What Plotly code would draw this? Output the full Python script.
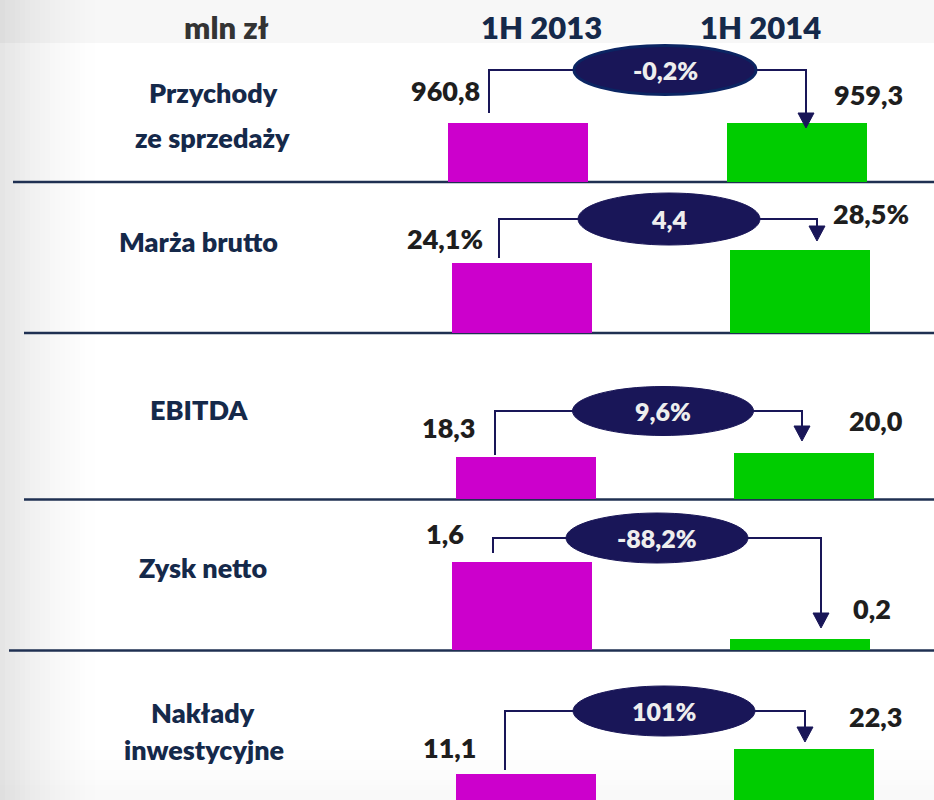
import plotly.graph_objects as go

# ---------------- data ----------------
periods = ["1H 2013", "1H 2014"]
metric_lines = [["Przychody", "ze sprzedaży"], ["Marża brutto"], ["EBITDA"], ["Zysk netto"], ["Nakłady", "inwestycyjne"]]
values_2013 = [960.8, 24.1, 18.3, 1.6, 11.1]
values_2014 = [959.3, 28.5, 20.0, 0.2, 22.3]
labels_2013 = ["960,8", "24,1%", "18,3", "1,6", "11,1"]
labels_2014 = ["959,3", "28,5%", "20,0", "0,2", "22,3"]
changes = ["-0,2%", "4,4", "9,6%", "-88,2%", "101%"]
unit_label = "mln zł"

# ---------------- layout config (pixels) ----------------
W, H = 934, 800
row_top = [0, 182, 333, 499, 650]
row_base = [182, 333, 499, 650, 800]
px_per_unit = [59 / 960.8, 2.9, 2.3, 55, 2.3]
c13 = [518, 521.5, 526, 521.5, 526]
c14 = [797, 799.5, 803.5, 799.5, 803.5]
bar_w_px = 140
lab13_shift = [(-73, 33), (-77, 25), (-78, 29), (-77, 29), (-77, 27)]
lab14_shift = [(71, 29), (71, 37), (72, 33), (72, 31), (72, 32)]
ell = [(665, 70, 182, 49), (669, 219, 182, 52), (663, 411, 181, 49), (657, 538, 182, 50), (664, 711, 182, 50)]
conn = [(489, 113, 806, 128), (499, 258, 817, 241), (495, 455, 802, 441), (493, 553, 821, 628), (505, 770, 805, 742)]
label_pos = [[(213, 92), (212, 137)], [(198, 241)], [(199, 409)], [(203, 567)], [(203, 712), (204, 749)]]
sep_lines = [(13, 182), (24, 333), (24, 499.5), (9, 650.5)]

MAGENTA = "#CC00CC"
GREEN = "#00CC00"
NAVY = "#191658"
LABEL = "#15294A"
FONT = "Lato"
WEIGHT = 800


def X(p):
    return p / W


def Y(p):
    return 1 - p / H


fig = go.Figure()
layout = dict(
    width=W, height=H, margin=dict(l=0, r=0, t=0, b=0),
    paper_bgcolor="white", plot_bgcolor="rgba(0,0,0,0)",
    showlegend=False, bargap=0,
)
shapes = []
annotations = []

for i in range(5):
    n = "" if i == 0 else str(i + 1)
    unit = c14[i] - c13[i]
    fig.add_trace(go.Bar(
        x=periods, y=[values_2013[i], values_2014[i]],
        marker=dict(color=[MAGENTA, GREEN], line=dict(width=0)),
        width=bar_w_px / unit, xaxis="x" + n, yaxis="y" + n, hoverinfo="skip",
    ))
    layout["xaxis" + n] = dict(
        type="category", domain=[0, 1], anchor="y" + n, visible=False,
        range=[-c13[i] / unit, (W - c13[i]) / unit], fixedrange=True,
    )
    layout["yaxis" + n] = dict(
        domain=[Y(row_base[i]), Y(row_top[i])], anchor="x" + n, visible=False,
        range=[0, (row_base[i] - row_top[i]) / px_per_unit[i]], fixedrange=True,
    )
    # value labels anchored on bars
    for per, txt, sh in ((periods[0], labels_2013[i], lab13_shift[i]), (periods[1], labels_2014[i], lab14_shift[i])):
        val = values_2013[i] if per == periods[0] else values_2014[i]
        annotations.append(dict(
            x=per, y=val, xref="x" + n, yref="y" + n, text=txt,
            showarrow=False, xshift=sh[0], yshift=sh[1], xanchor="center", yanchor="middle",
            font=dict(family=FONT, size=27, color="#1E1E1E", weight=WEIGHT),
        ))
    # connector
    L, Lb, R, tip = conn[i]
    cx, cy, ew, eh = ell[i]
    ah, aw = 15, 16
    path = "M %f %f L %f %f L %f %f L %f %f" % (X(L), Y(Lb), X(L), Y(cy), X(R), Y(cy), X(R), Y(tip - ah + 1))
    shapes.append(dict(type="path", path=path, xref="paper", yref="paper",
                       line=dict(color=NAVY, width=2)))
    tri = "M %f %f L %f %f L %f %f Z" % (X(R - aw / 2), Y(tip - ah), X(R + aw / 2), Y(tip - ah), X(R), Y(tip))
    shapes.append(dict(type="path", path=tri, xref="paper", yref="paper",
                       fillcolor=NAVY, line=dict(color=NAVY, width=1)))
    border = dict(color="#0B2563", width=3) if i == 0 else dict(color=NAVY, width=1)
    shapes.append(dict(type="circle", xref="paper", yref="paper",
                       x0=X(cx - ew / 2), x1=X(cx + ew / 2), y0=Y(cy + eh / 2), y1=Y(cy - eh / 2),
                       fillcolor=NAVY, line=border))
    annotations.append(dict(x=X(cx), y=Y(cy), xref="paper", yref="paper", text=changes[i],
                            showarrow=False, xanchor="center", yanchor="middle",
                            font=dict(family=FONT, size=25, color="#EEEEEE", weight=WEIGHT)))
    # row labels
    for line_txt, (lx, ly) in zip(metric_lines[i], label_pos[i]):
        annotations.append(dict(x=X(lx), y=Y(ly), xref="paper", yref="paper", text=line_txt,
                                showarrow=False, xanchor="center", yanchor="middle",
                                font=dict(family=FONT, size=27, color=LABEL, weight=WEIGHT)))

# header
annotations.append(dict(x=X(226), y=Y(27), xref="paper", yref="paper", text=unit_label,
                        showarrow=False, xanchor="center", yanchor="middle",
                        font=dict(family=FONT, size=31, color="#333333", weight=WEIGHT)))
for per, hx in zip(periods, (541, 760)):
    annotations.append(dict(x=X(hx), y=Y(27), xref="paper", yref="paper", text=per,
                            showarrow=False, xanchor="center", yanchor="middle",
                            font=dict(family=FONT, size=31, color=LABEL, weight=WEIGHT)))

# background shading (decor)
bg = []
bg.append(dict(type="rect", xref="paper", yref="paper", x0=0, x1=1, y0=Y(43), y1=1,
               fillcolor="rgba(0,0,0,0.03)", line=dict(width=0), layer="below"))
for k in range(12):
    a = 0.025 * ((k + 1) / 12) ** 1.5
    bg.append(dict(type="rect", xref="paper", yref="paper", x0=0, x1=1,
                   y0=Y(800 - (11 - k) * 5 - 5 + 5), y1=Y(800 - (12 - k) * 5 + 5 - 5),
                   fillcolor="rgba(0,0,0,%.4f)" % a, line=dict(width=0), layer="below"))
nstr = 20
for k in range(nstr):
    a = 0.10 * (1 - k / nstr) ** 1.6
    bg.append(dict(type="rect", xref="paper", yref="paper", x0=X(k * 5), x1=X(k * 5 + 5), y0=0, y1=1,
                   fillcolor="rgba(0,0,0,%.4f)" % a, line=dict(width=0), layer="below"))
for sx, sy in sep_lines:
    bg.append(dict(type="line", xref="paper", yref="paper", x0=X(sx), x1=1, y0=Y(sy), y1=Y(sy),
                   line=dict(color="#1F3052", width=2.5), layer="below"))

layout["shapes"] = bg + shapes
layout["annotations"] = annotations
fig.update_layout(**layout)

fig.write_html("out.html", config={"displayModeBar": False},
               post_script="document.body.style.margin='0';")
